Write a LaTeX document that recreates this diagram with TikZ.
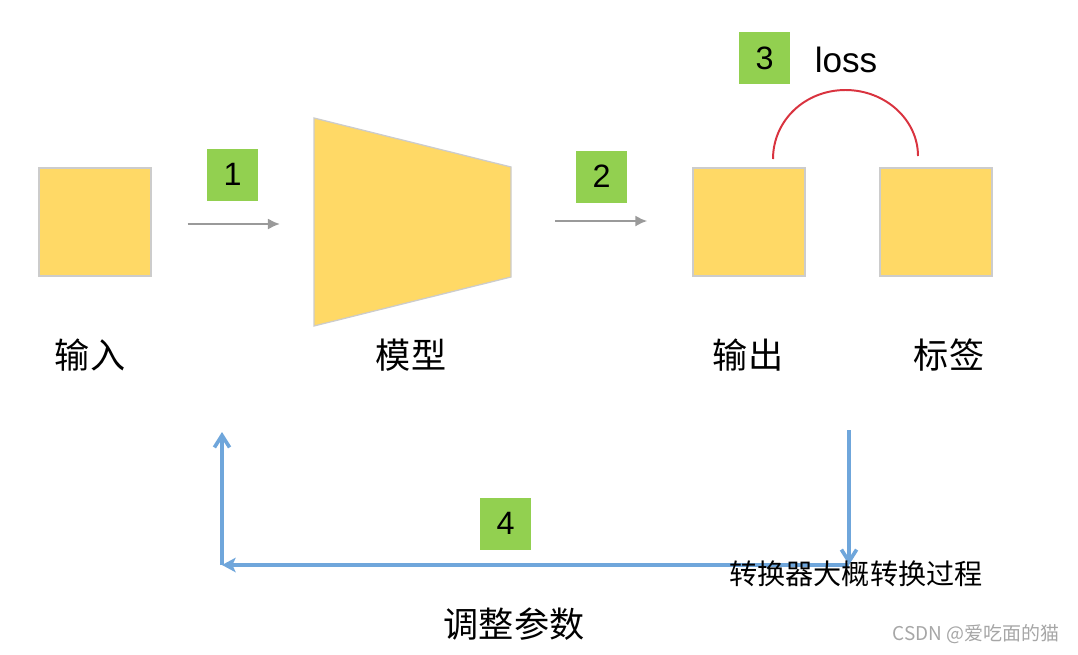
\documentclass[tikz,border=0pt]{standalone}
\usepackage{fontspec}
\setmainfont{Liberation Sans}
\newfontfamily\cjk{Noto Sans CJK SC}
\usetikzlibrary{arrows.meta}
\definecolor{boxyellow}{HTML}{FFD966}
\definecolor{numgreen}{HTML}{92D050}
\definecolor{flowgray}{HTML}{9A9A9A}
\definecolor{fbblue}{HTML}{6FA6DB}
\definecolor{lossred}{HTML}{D9333F}
\begin{document}
\begin{tikzpicture}[x=0.025cm, y=-0.025cm,
  sq/.style={draw=gray!40, line width=0.9pt, fill=boxyellow, minimum width=2.8cm, minimum height=2.7cm, inner sep=0pt},
  numbox/.style={fill=numgreen, minimum width=1.275cm, minimum height=1.3cm, inner sep=0pt, font=\fontsize{23}{26}\selectfont},
  lbltext/.style={font=\cjk\fontsize{25}{30}\selectfont},
  flow/.style={draw=flowgray, line width=2pt, -{Latex[length=0.3cm, width=0.28cm]}},
  fb/.style={draw=fbblue, line width=2.6pt}]
  \useasboundingbox (0,0) rectangle (1078,654);
  % boxes
  \node[sq] (inp) at (95,222) {};
  \filldraw[draw=gray!40, line width=0.9pt, fill=boxyellow] (314,118) -- (511,167) -- (511,277) -- (314,326) -- cycle;
  \coordinate (mdlin) at (314,224);
  \coordinate (mdlout) at (511,221);
  \node[sq] (outp) at (749,222) {};
  \node[sq] (lbl) at (936,222) {};
  % labels
  \foreach \x/\name/\txt in {90/inpt/输入, 411/mdlt/模型, 748/outpt/输出, 949/lblt/标签}
    { \node[lbltext] (\name) at (\x,355) {\txt}; }
  % steps
  \node[numbox] (n1) at (232.5,174.5) {1};
  \node[numbox] (n2) at (601.5,176.5) {2};
  \node[numbox] (n3) at (764.5,58) {3};
  \node[numbox] (n4) at (505.5,523.5) {4};
  \node[font=\fontsize{25}{30}\selectfont] (loss) at (846,60) {loss};
  % forward
  \draw[flow] ([xshift=0.9cm]inp.east |- mdlin) -- ([xshift=-0.85cm]mdlin);
  \draw[flow] ([xshift=1.1cm]mdlout) -- ([xshift=-1.125cm]outp.west |- mdlout);
  % loss
  \coordinate (lossL) at (773,159);
  \coordinate (lossR) at (918,156);
  \draw[lossred, line width=1.4pt] (lossL) .. controls (773,120) and (805.5,90) .. (845.5,90)
    .. controls (885.5,90) and (918,120) .. (lossR);
  % feedback
  \coordinate (fb1) at (849,430);
  \coordinate (fb2) at (849,565);
  \coordinate (fb3) at (222,565);
  \coordinate (fb4) at (222,432);
  \draw[fb, -{Straight Barb[length=0.3cm, width=0.38cm]}] (fb1) -- (fb2);
  \draw[fb, -{Stealth[length=0.34cm, width=0.36cm, inset=0.08cm]}] (fb2) -- (fb3);
  \draw[fb, -{Straight Barb[length=0.3cm, width=0.38cm]}] (fb3) -- (fb4);
  \node[lbltext] (adj) at (514,624) {调整参数};
  \node[font=\cjk\fontsize{20}{24}\selectfont] (capt) at (856,574) {转换器大概转换过程};
  \node[text=gray!70, font=\cjk\fontsize{13.5}{16}\selectfont] (mark) at (976,634) {CSDN @爱吃面的猫};
\end{tikzpicture}
\end{document}
